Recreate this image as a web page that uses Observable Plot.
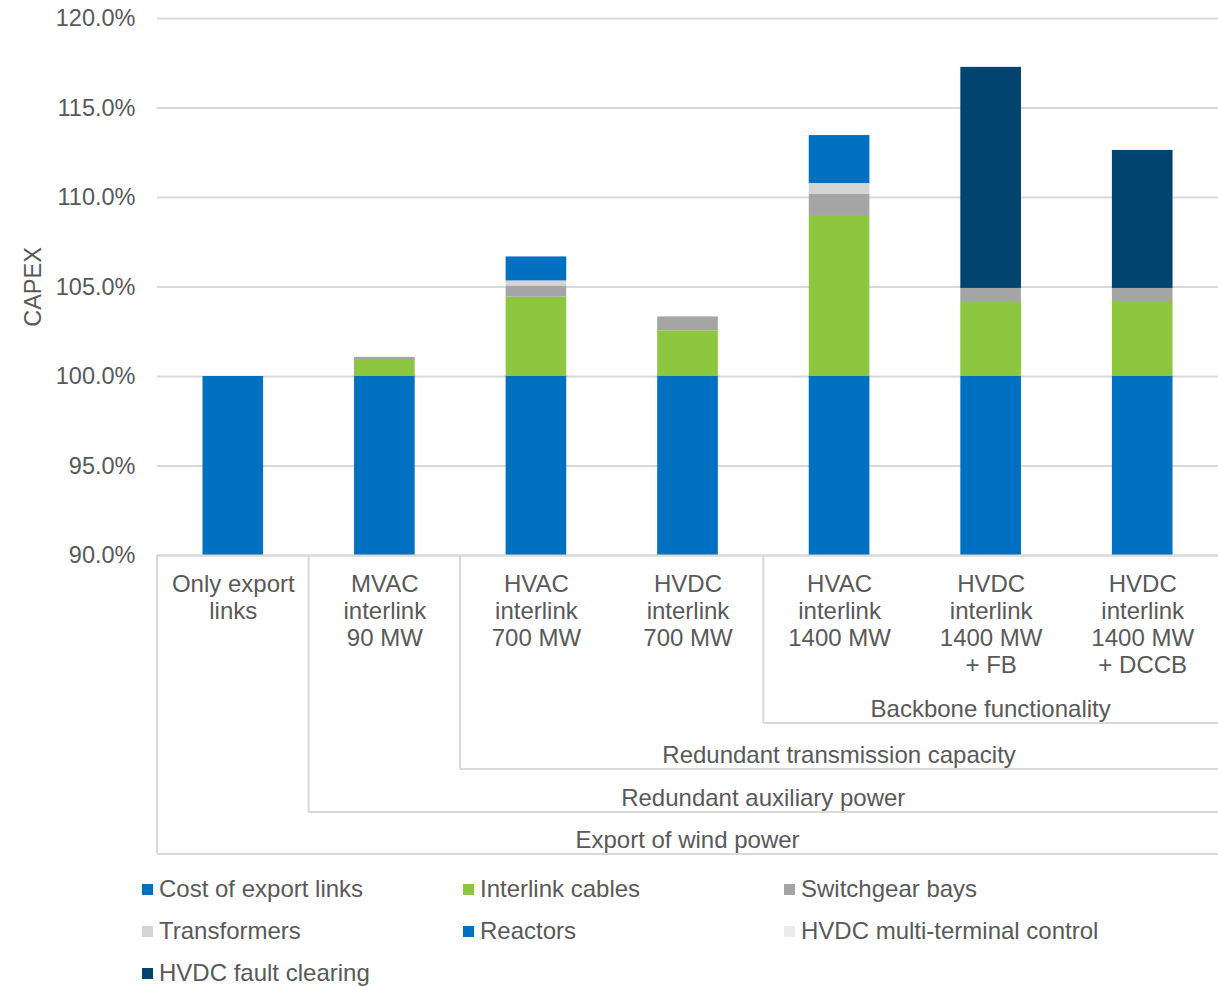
<!DOCTYPE html>
<html>
<head>
<meta charset="utf-8">
<script src="https://cdn.jsdelivr.net/npm/d3@7"></script>
<script src="https://cdn.jsdelivr.net/npm/@observablehq/plot@0.6"></script>
<style>
  body { margin: 0; background: #fff; font-family: "Liberation Sans", Arial, sans-serif; color: #595959; }
  #legend { display: flex; flex-wrap: wrap; padding-left: 142px; margin-top: -4px; width: 1076px; }
  .item { width: 321px; height: 42px; display: flex; align-items: center; font-size: 24px; color: #595959; }
  .sw { width: 11px; height: 11px; margin-right: 6px; flex: none; }
</style>
</head>
<body>
<div id="chart"></div>
<div id="legend"></div>
<script>
// Categories (x axis, lowest level)
const categories = [
  "Only export\nlinks",
  "MVAC\ninterlink\n90 MW",
  "HVAC\ninterlink\n700 MW",
  "HVDC\ninterlink\n700 MW",
  "HVAC\ninterlink\n1400 MW",
  "HVDC\ninterlink\n1400 MW\n+ FB",
  "HVDC\ninterlink\n1400 MW\n+ DCCB"
];

// Grouping levels (each group spans from category index to the end)
const groupLabels = ["Backbone functionality", "Redundant transmission capacity", "Redundant auxiliary power", "Export of wind power"];
const groupStart = [4, 2, 1, 0];

// Series (CAPEX %, stacked)
const seriesNames = ["Cost of export links", "Interlink cables", "Switchgear bays", "Transformers", "Reactors", "HVDC multi-terminal control", "HVDC fault clearing"];
const seriesColors = ["#0070c0", "#8dc63f", "#a5a5a5", "#d4d4d4", "#0070c0", "#ececec", "#00446f"];
const costExportLinks = [100, 100, 100, 100, 100, 100, 100];
const interlinkCables = [0, 0.95, 4.43, 2.55, 8.94, 4.19, 4.19];
const switchgearBays = [0, 0.12, 0.63, 0.78, 1.23, 0.73, 0.73];
const transformers = [0, 0, 0.28, 0, 0.61, 0, 0];
const reactors = [0, 0, 1.34, 0, 2.68, 0, 0];
const hvdcMultiTerminal = [0, 0, 0, 0, 0, 0, 0];
const hvdcFaultClearing = [0, 0, 0, 0, 0, 12.35, 7.71];

// Y ticks
const yTicks = [90, 95, 100, 105, 110, 115, 120];

const seriesValues = [costExportLinks, interlinkCables, switchgearBays, transformers, reactors, hvdcMultiTerminal, hvdcFaultClearing];
const data = [];
seriesNames.forEach((s, si) => categories.forEach((c, ci) => data.push({category: c, series: s, value: seriesValues[si][ci]})));

const W = 1218, H = 872, mTop = 18, mBottom = H - 555, mLeft = 157, mRight = 0;
const grid = "#d9d9d9", txt = "#595959";

const plot = Plot.plot({
  width: W, height: H,
  marginTop: mTop, marginBottom: mBottom, marginLeft: mLeft, marginRight: mRight,
  style: {fontFamily: "'Liberation Sans', Arial, sans-serif", fontSize: "24px", color: txt, background: "#fff"},
  x: {domain: categories, paddingInner: 0.6, paddingOuter: 0.3, round: false},
  y: {domain: [90, 120]},
  color: {domain: seriesNames, range: seriesColors},
  marks: [
    Plot.gridY(yTicks, {stroke: grid, strokeOpacity: 1, strokeWidth: 2}),
    Plot.barY(data, {x: "category", y: "value", fill: "series", clip: true}),
    Plot.ruleY([90], {stroke: grid, strokeWidth: 2}),
    Plot.axisY(yTicks, {tickSize: 0, tickPadding: 22, tickFormat: d => d.toFixed(1) + "%", fontSize: "23.5px",
      label: "CAPEX", labelAnchor: "center", labelArrow: "none", labelOffset: 133}),
    Plot.axisX({tickSize: 0, tickPadding: 17, lineHeight: 1.13, fontSize: "24px", label: null})
  ]
});
document.getElementById("chart").appendChild(plot);

// Multi-level category grouping drawn from the plot's own x scale
const xs = plot.scale("x");
const step = xs.step, bw = xs.bandwidth;
const leftOf = i => xs.apply(categories[i]) - (step - bw) / 2;
const right = W - mRight;
const bottom = H - mBottom;
const rowLine = [168, 214, 257, 299];
const svg = d3.select(plot);
const g = svg.append("g").attr("stroke", grid).attr("stroke-width", 2).attr("fill", "none");
const gt = svg.append("g").attr("fill", txt).attr("font-size", "24px").attr("text-anchor", "middle")
  .attr("font-family", "'Liberation Sans', Arial, sans-serif");
groupLabels.forEach((label, r) => {
  const x0 = leftOf(groupStart[r]);
  const yl = bottom + rowLine[r];
  g.append("line").attr("x1", x0).attr("x2", right).attr("y1", yl).attr("y2", yl);
  g.append("line").attr("x1", x0).attr("x2", x0).attr("y1", bottom).attr("y2", yl);
  gt.append("text").attr("x", (x0 + right) / 2).attr("y", yl - 12).attr("dominant-baseline", "middle").text(label);
});

// Legend
const legend = d3.select("#legend");
seriesNames.forEach((s, i) => {
  const it = legend.append("div").attr("class", "item");
  it.append("div").attr("class", "sw").style("background", seriesColors[i]);
  it.append("span").text(s);
});
</script>
</body>
</html>
